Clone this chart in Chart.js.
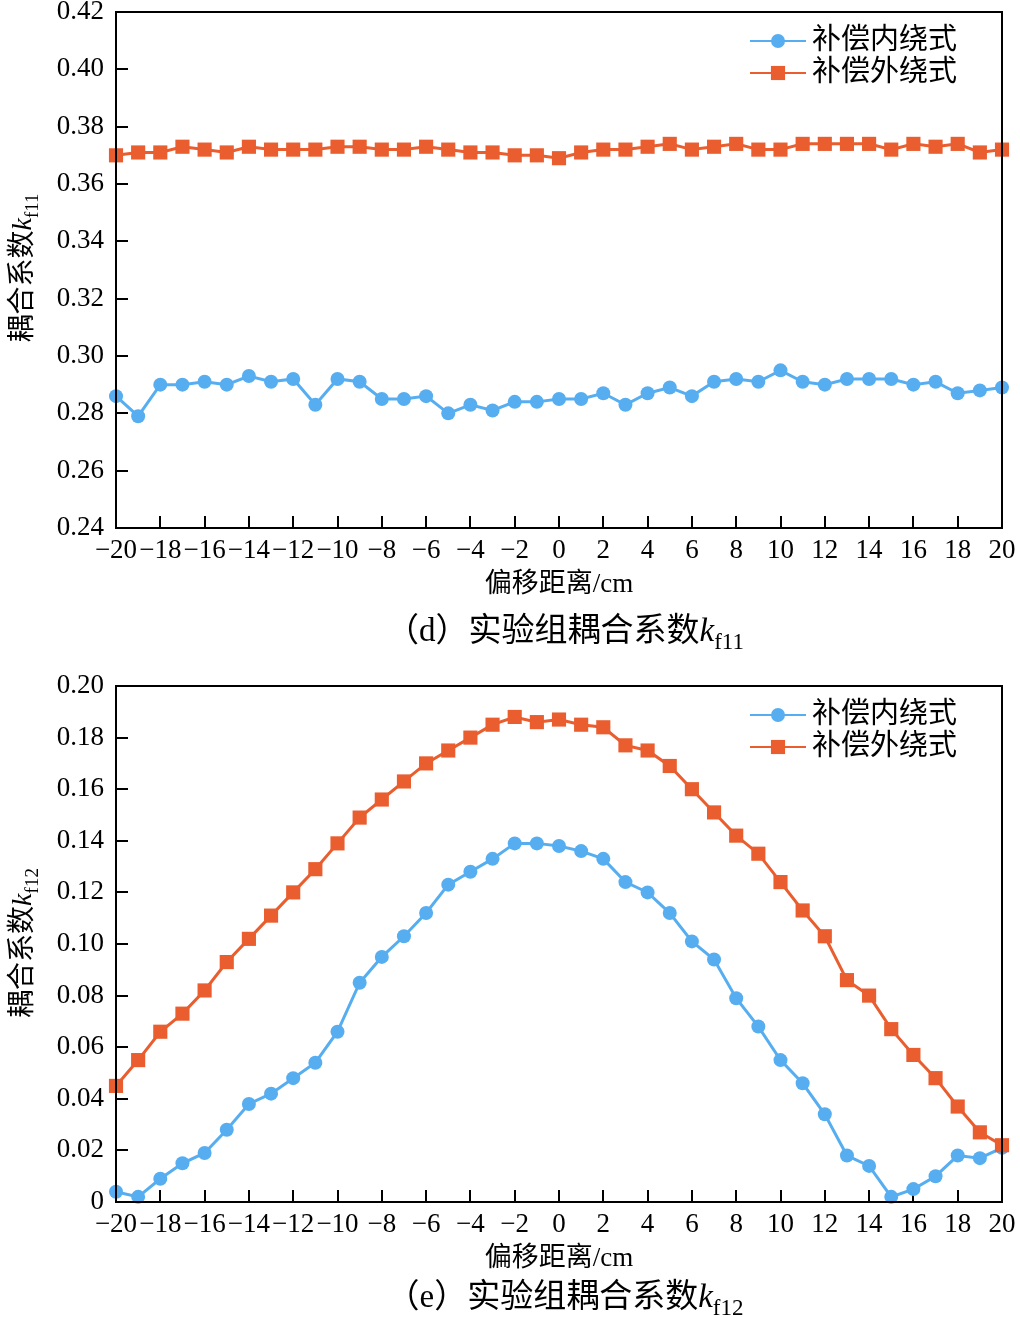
<!DOCTYPE html>
<html>
<head>
<meta charset="utf-8">
<script src="https://cdn.jsdelivr.net/npm/chart.js@4.4.1/dist/chart.umd.min.js"></script>
<style>
html, body { margin: 0; padding: 0; background: #fff; }
.wrap { position: absolute; left: 0; width: 1020px; }
</style>
</head>
<body>
<div class="wrap" style="top:0;height:658px"><canvas id="chart-d"></canvas></div>
<div class="wrap" style="top:658px;height:659px"><canvas id="chart-e"></canvas></div>
<script>
// 偏移距离 (cm)
const offsets = [-20, -19, -18, -17, -16, -15, -14, -13, -12, -11, -10, -9, -8, -7, -6, -5, -4, -3, -2, -1,
                 0, 1, 2, 3, 4, 5, 6, 7, 8, 9, 10, 11, 12, 13, 14, 15, 16, 17, 18, 19, 20];
const xTicks = [-20, -18, -16, -14, -12, -10, -8, -6, -4, -2, 0, 2, 4, 6, 8, 10, 12, 14, 16, 18, 20];
const seriesNames = ['补偿内绕式', '补偿外绕式'];

// (d) kf11
const innerF11 = [0.286, 0.279, 0.290, 0.290, 0.291, 0.290, 0.293, 0.291, 0.292, 0.283, 0.292,
                  0.291, 0.285, 0.285, 0.286, 0.280, 0.283, 0.281, 0.284, 0.284, 0.285,
                  0.285, 0.287, 0.283, 0.287, 0.289, 0.286, 0.291, 0.292, 0.291, 0.295,
                  0.291, 0.290, 0.292, 0.292, 0.292, 0.290, 0.291, 0.287, 0.288, 0.289];
const outerF11 = [0.370, 0.371, 0.371, 0.373, 0.372, 0.371, 0.373, 0.372, 0.372, 0.372, 0.373,
                  0.373, 0.372, 0.372, 0.373, 0.372, 0.371, 0.371, 0.370, 0.370, 0.369,
                  0.371, 0.372, 0.372, 0.373, 0.374, 0.372, 0.373, 0.374, 0.372, 0.372,
                  0.374, 0.374, 0.374, 0.374, 0.372, 0.374, 0.373, 0.374, 0.371, 0.372];

// (e) kf12
const innerF12 = [0.004, 0.002, 0.009, 0.015, 0.019, 0.028, 0.038, 0.042, 0.048, 0.054, 0.066,
                  0.085, 0.095, 0.103, 0.112, 0.123, 0.128, 0.133, 0.139, 0.139, 0.138,
                  0.136, 0.133, 0.124, 0.120, 0.112, 0.101, 0.094, 0.079, 0.068, 0.055,
                  0.046, 0.034, 0.018, 0.014, 0.002, 0.005, 0.010, 0.018, 0.017, 0.021];
const outerF12 = [0.045, 0.055, 0.066, 0.073, 0.082, 0.093, 0.102, 0.111, 0.120, 0.129, 0.139,
                  0.149, 0.156, 0.163, 0.170, 0.175, 0.180, 0.185, 0.188, 0.186, 0.187,
                  0.185, 0.184, 0.177, 0.175, 0.169, 0.160, 0.151, 0.142, 0.135, 0.124,
                  0.113, 0.103, 0.086, 0.080, 0.067, 0.057, 0.048, 0.037, 0.027, 0.022];

const BLUE = '#56aef0';
const ORANGE = '#e95d2e';
const SERIF = '"Liberation Serif", "Times New Roman", serif';
const MIXED = '"Liberation Serif", "Noto Sans CJK SC", serif';

function drawRich(ctx, parts, x, y) {
    let total = 0;
    parts.forEach(p => {
        ctx.font = p.font;
        p.w = ctx.measureText(p.text).width;
        total += p.w;
    });
    let cx = x - total / 2;
    parts.forEach(p => {
        ctx.font = p.font;
        ctx.fillText(p.text, cx, y + (p.dy || 0));
        cx += p.w;
    });
}

// frame, legend, y title and caption
const figPlugin = {
    id: 'figText',
    afterDatasetsDraw(chart, args, opts) {
        const { ctx, chartArea } = chart;
        ctx.save();
        ctx.strokeStyle = '#000';
        ctx.lineWidth = 2;
        ctx.strokeRect(chartArea.left, chartArea.top, chartArea.right - chartArea.left, chartArea.bottom - chartArea.top);

        chart.data.datasets.forEach((ds, i) => {
            const y = chartArea.top + 29 + i * 32;
            ctx.strokeStyle = ds.borderColor;
            ctx.lineWidth = 2;
            ctx.beginPath();
            ctx.moveTo(750, y);
            ctx.lineTo(806, y);
            ctx.stroke();
            ctx.fillStyle = ds.backgroundColor;
            Chart.helpers.drawPoint(ctx, {
                pointStyle: ds.pointStyle, radius: ds.pointRadius, borderWidth: 0, rotation: 0
            }, 778, y);
            ctx.fillStyle = '#000';
            ctx.font = '29px ' + MIXED;
            ctx.textAlign = 'left';
            ctx.textBaseline = 'middle';
            ctx.fillText(ds.label, 812, y);
        });
        ctx.restore();
    },
    afterDraw(chart, args, opts) {
        const { ctx } = chart;
        ctx.save();
        ctx.fillStyle = '#000';
        ctx.textAlign = 'left';
        ctx.textBaseline = 'alphabetic';
        drawRich(ctx, [
            { text: '（' + opts.letter + '）实验组耦合系数', font: '33px ' + MIXED },
            { text: 'k', font: 'italic 33px ' + SERIF },
            { text: opts.sub, font: '23px ' + SERIF, dy: 8 }
        ], 565, opts.captionY);

        ctx.translate(31, opts.titleY);
        ctx.rotate(-Math.PI / 2);
        drawRich(ctx, [
            { text: '耦合系数', font: '28px ' + MIXED },
            { text: 'k', font: 'italic 28px ' + SERIF },
            { text: opts.sub, font: '19px ' + SERIF, dy: 7 }
        ], 0, 0);
        ctx.restore();
    }
};

function makeChart(id, inner, outer, yMin, yMax, cfg) {
    const ctx = document.getElementById(id);
    return new Chart(ctx, {
        type: 'line',
        data: {
            datasets: [{
                label: seriesNames[0],
                data: offsets.map((x, i) => ({ x, y: inner[i] })),
                borderColor: BLUE,
                backgroundColor: BLUE,
                borderWidth: 3,
                pointStyle: 'circle',
                pointRadius: 7,
                pointBorderWidth: 0,
                clip: false,
                order: 1
            }, {
                label: seriesNames[1],
                data: offsets.map((x, i) => ({ x, y: outer[i] })),
                borderColor: ORANGE,
                backgroundColor: ORANGE,
                borderWidth: 3,
                pointStyle: 'rect',
                pointRadius: 10,
                pointBorderWidth: 0,
                clip: false,
                order: 0
            }]
        },
        options: {
            responsive: true,
            maintainAspectRatio: false,
            animation: false,
            layout: {
                padding: { left: 0, right: 18, top: cfg.padTop, bottom: 0 }
            },
            plugins: {
                legend: { display: false },
                tooltip: { enabled: false },
                figText: { letter: cfg.letter, sub: cfg.sub, captionY: cfg.captionY, titleY: cfg.titleY }
            },
            scales: {
                x: {
                    type: 'linear',
                    min: -20,
                    max: 20,
                    afterBuildTicks: scale => {
                        scale.ticks = xTicks.map(v => ({ value: v }));
                    },
                    afterFit: scale => {
                        scale.height = cfg.xHeight;
                        scale.paddingLeft = 0;
                        scale.paddingRight = 0;
                    },
                    ticks: {
                        color: '#000',
                        font: { family: SERIF, size: 27 },
                        padding: 19,
                        maxRotation: 0,
                        autoSkip: false,
                        callback: v => String(v).replace('-', '−')
                    },
                    grid: { drawOnChartArea: false, drawTicks: true, tickLength: -12, color: '#000', lineWidth: 2 },
                    border: { display: true, color: '#000', width: 2 },
                    title: {
                        display: true,
                        text: '偏移距离/cm',
                        color: '#000',
                        font: { family: MIXED, size: 27 },
                        padding: { top: 0, bottom: cfg.titlePad }
                    }
                },
                y: {
                    min: yMin,
                    max: yMax,
                    afterFit: scale => {
                        scale.width = 116;
                        scale.paddingTop = 0;
                        scale.paddingBottom = 0;
                    },
                    ticks: {
                        stepSize: 0.02,
                        color: '#000',
                        font: { family: SERIF, size: 27 },
                        padding: 24,
                        callback: v => Math.abs(v) < 1e-9 ? '0' : v.toFixed(2)
                    },
                    grid: { drawOnChartArea: false, drawTicks: true, tickLength: -12, color: '#000', lineWidth: 2 },
                    border: { display: true, color: '#000', width: 2 }
                }
            }
        },
        plugins: [figPlugin]
    });
}

makeChart('chart-d', innerF11, outerF11, 0.24, 0.42,
    { letter: 'd', sub: 'f11', padTop: 12, xHeight: 130, titlePad: 57, captionY: 641, titleY: 268 });
makeChart('chart-e', innerF12, outerF12, 0, 0.20,
    { letter: 'e', sub: 'f12', padTop: 28, xHeight: 115, titlePad: 42, captionY: 649, titleY: 285 });
</script>
</body>
</html>
